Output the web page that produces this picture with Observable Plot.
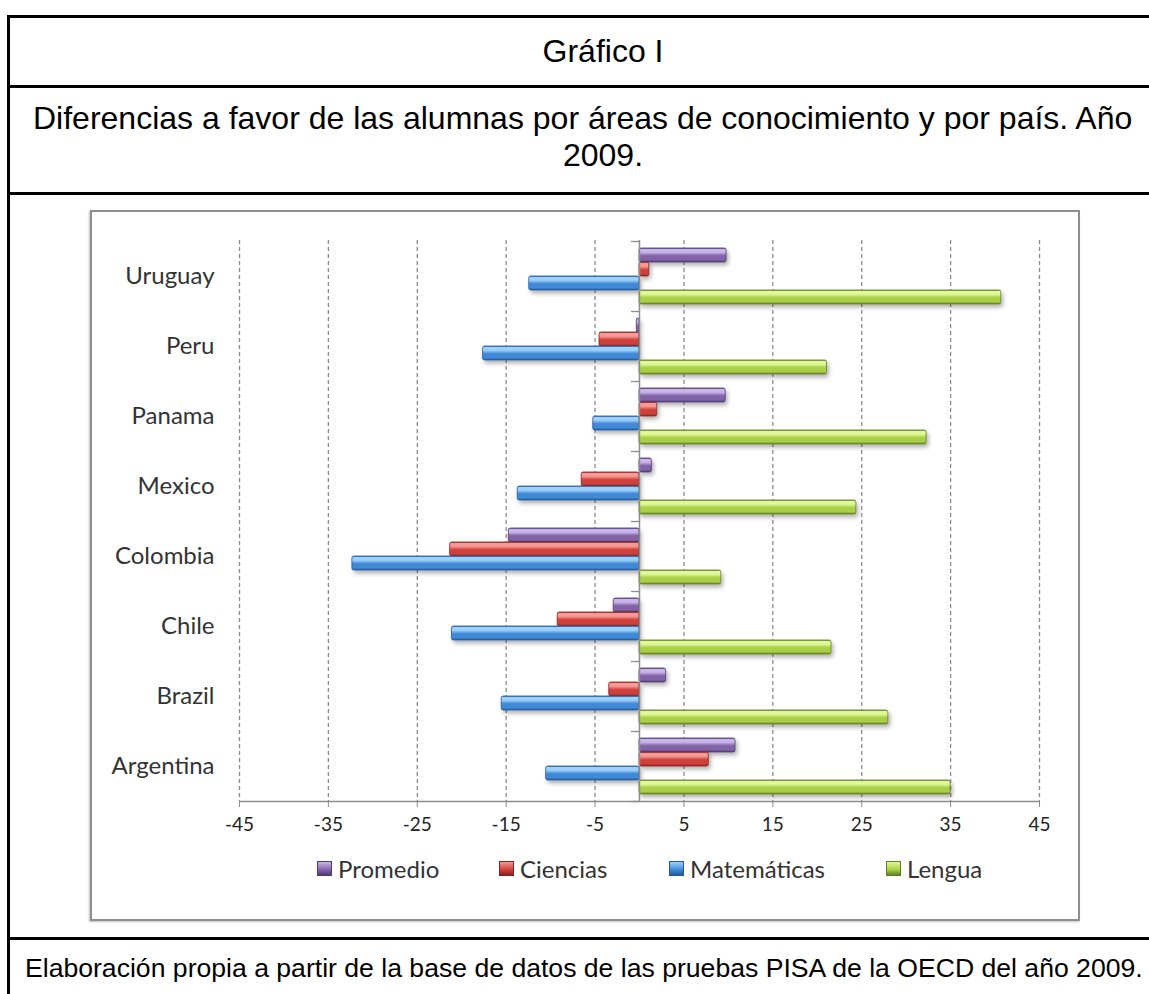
<!DOCTYPE html>
<html>
<head>
<meta charset="utf-8">
<script src="https://cdn.jsdelivr.net/npm/d3@7"></script>
<script src="https://cdn.jsdelivr.net/npm/@observablehq/plot@0.6"></script>
<style>
  html, body { margin: 0; padding: 0; background: #fff; }
  #page { position: relative; width: 1149px; height: 994px; overflow: hidden; background: #fff; font-family: "Liberation Sans", Arial, sans-serif; color: #000; }
  .hl { position: absolute; left: 7px; width: 1160px; height: 3px; background: #000; }
  .vl { position: absolute; left: 7px; top: 15px; width: 3px; height: 1000px; background: #000; }
  .txt { position: absolute; white-space: nowrap; line-height: 1; }
  #frame { position: absolute; left: 90px; top: 210px; width: 990px; height: 711px; box-sizing: border-box; border: 2px solid #8e8e8e; box-shadow: -1px 1px 2px rgba(0,0,0,0.25); background: #fff; }
  #chart { position: absolute; left: 90px; top: 210px; width: 990px; height: 711px; }
  #legend { position: absolute; left: 0; top: 853px; width: 1149px; height: 30px; font-family: Lato, sans-serif; font-size: 24px; color: #333; }
  #legend .item { position: absolute; top: 0; display: flex; align-items: center; height: 30px; }
  #legend .sw { width: 15px; height: 15px; margin-right: 6px; box-sizing: border-box; }
</style>
</head>
<body>
<div id="page">
  <div class="hl" style="top:15px"></div>
  <div class="hl" style="top:85px"></div>
  <div class="hl" style="top:192px"></div>
  <div class="hl" style="top:937px"></div>
  <div class="vl"></div>
  <div class="txt" id="title" style="font-size:32px; left:0; width:1206px; text-align:center; top:35px;">Gráfico I</div>
  <div class="txt" id="sub1" style="font-size:32px; left:33px; top:102px;">Diferencias a favor de las alumnas por áreas de conocimiento y por país. Año</div>
  <div class="txt" id="sub2" style="font-size:32px; left:0; width:1206px; text-align:center; top:139px;">2009.</div>
  <div class="txt" id="caption" style="font-size:26.6px; left:25px; top:955px;">Elaboración propia a partir de la base de datos de las pruebas PISA de la OECD del año 2009.</div>
  <div id="frame"></div>
  <div id="chart"></div>
  <div id="legend"></div>
</div>
<script>
// ---- data ----
const countries = ["Uruguay", "Peru", "Panama", "Mexico", "Colombia", "Chile", "Brazil", "Argentina"];
const series = ["Promedio", "Ciencias", "Matemáticas", "Lengua"];
const promedio    = [9.8, -0.3, 9.7, 1.4, -14.7, -2.9, 3.0, 10.8];
const ciencias    = [1.1, -4.5, 2.0, -6.5, -21.3, -9.2, -3.4, 7.8];
const matematicas = [-12.4, -17.6, -5.2, -13.7, -32.3, -21.1, -15.5, -10.5];
const lengua      = [40.7, 21.1, 32.3, 24.4, 9.2, 21.6, 28.0, 35.0];
const xTicks = [-45, -35, -25, -15, -5, 5, 15, 25, 35, 45];

// ---- styles ----
const seriesValues = [promedio, ciencias, matematicas, lengua];
const light = ["#c9b6e8", "#f59a96", "#9dd0fb", "#e0f79a"];
const base  = ["#8264a8", "#cf3f3b", "#3f89d6", "#a8cf45"];
const dark  = ["#4f3a74", "#8a2220", "#24589a", "#617f22"];
const legendLeft = [317, 499, 669, 886];

const rows = countries.flatMap((c, i) => series.map((s, j) => ({country: c, series: s, value: seriesValues[j][i]})));

const band = 70, barH = 14, pad = 7;
const grid = "#8c8c8c";

const chart = Plot.plot({
  width: 990,
  height: 711,
  marginLeft: 149,
  marginRight: 41,
  marginTop: 30,
  marginBottom: 120,
  style: {background: "transparent", fontFamily: "Lato, sans-serif", overflow: "visible"},
  x: {domain: [-45, 45], label: null},
  y: {domain: countries, padding: 0, label: null},
  marks: [
    Plot.ruleX(xTicks, {stroke: grid, strokeWidth: 1.3, strokeDasharray: "4,3"}),
    ...series.map((s, j) => Plot.barX(rows.filter(d => d.series === s), {
      y: "country", x1: 0, x2: "value",
      fill: `url(#grad${j})`, stroke: dark[j], strokeWidth: 0.8, rx: 2,
      insetTop: pad + barH * j, insetBottom: band - pad - barH * (j + 1),
      className: "bars"
    })),
    Plot.ruleX([0], {stroke: grid, strokeWidth: 1.5}),
    Plot.ruleY(countries, {y: d => d, x1: -0.9, x2: 0, dy: -band / 2, stroke: grid, strokeWidth: 1.3}),
    Plot.ruleY([countries[countries.length - 1]], {y: d => d, x1: -45, x2: 45, dy: band / 2, stroke: grid, strokeWidth: 1.5}),
    Plot.ruleY([countries[countries.length - 1]], {y: d => d, x1: -0.9, x2: 0, dy: band / 2, stroke: grid, strokeWidth: 1.3}),
    Plot.axisY({tickSize: 0, tickPadding: 25, fontSize: 24, fill: "#333", label: null}),
    Plot.axisX({ticks: xTicks, tickSize: 6, tickPadding: 10, fontSize: 19, fill: "#222", stroke: grid, label: null, anchor: "bottom", tickFormat: d => String(d)})
  ]
});

// gradients & shadow
const svg = d3.select(chart);
const defs = svg.insert("defs", ":first-child");
series.forEach((s, j) => {
  const g = defs.append("linearGradient").attr("id", `grad${j}`).attr("x1", 0).attr("y1", 0).attr("x2", 0).attr("y2", 1);
  [[0, dark[j]], [0.1, light[j]], [0.3, light[j]], [0.55, base[j]], [0.85, base[j]], [1, dark[j]]]
    .forEach(([o, c]) => g.append("stop").attr("offset", o).attr("stop-color", c));
});
const f = defs.append("filter").attr("id", "shadow").attr("x", "-10%").attr("y", "-50%").attr("width", "120%").attr("height", "250%");
f.append("feDropShadow").attr("dx", 2).attr("dy", 3).attr("stdDeviation", 2).attr("flood-color", "#000").attr("flood-opacity", 0.3);
svg.selectAll("g.bars").attr("filter", "url(#shadow)");

document.getElementById("chart").appendChild(chart);

// legend
const legend = d3.select("#legend");
series.forEach((s, j) => {
  const it = legend.append("div").attr("class", "item").style("left", legendLeft[j] + "px");
  it.append("div").attr("class", "sw")
    .style("background", `linear-gradient(${light[j]}, ${base[j]} 60%, ${dark[j]})`)
    .style("border", `1px solid ${dark[j]}`);
  it.append("span").text(s);
});
</script>
</body>
</html>
